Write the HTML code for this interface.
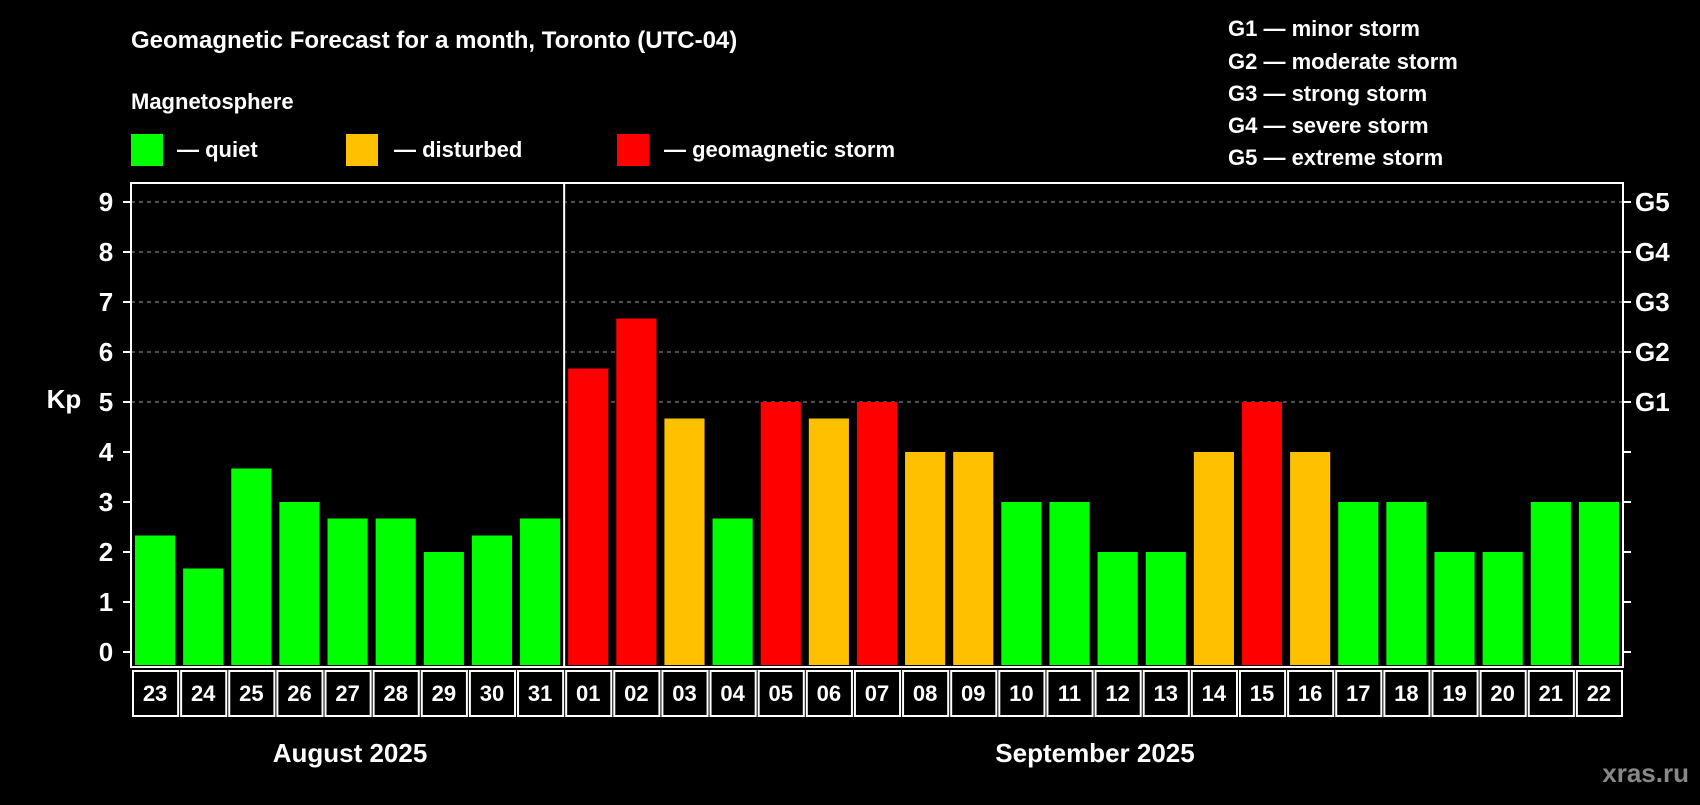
<!DOCTYPE html>
<html><head><meta charset="utf-8"><style>
body{margin:0;background:#000;width:1700px;height:800px;overflow:hidden}
svg text{font-family:"Liberation Sans",sans-serif;font-weight:bold;fill:#fff}
</style></head><body>
<svg id="c" width="1700" height="800">
<text x="131" y="48" font-size="24">Geomagnetic Forecast for a month, Toronto (UTC-04)</text>
<text x="131" y="109" font-size="22">Magnetosphere</text>
<rect x="131" y="134" width="32" height="32" fill="#00ff00"/>
<text x="177" y="157" font-size="22">— quiet</text>
<rect x="346" y="134" width="32" height="32" fill="#ffc000"/>
<text x="394" y="157" font-size="22">— disturbed</text>
<rect x="617" y="134" width="32" height="32" fill="#ff0000"/>
<text x="664" y="157" font-size="22">— geomagnetic storm</text>
<g font-size="22">
<text x="1228" y="36">G1 — minor storm</text>
<text x="1228" y="69">G2 — moderate storm</text>
<text x="1228" y="101">G3 — strong storm</text>
<text x="1228" y="133">G4 — severe storm</text>
<text x="1228" y="165">G5 — extreme storm</text>
</g>
<text x="64" y="408" font-size="26" text-anchor="middle">Kp</text>
<text x="1689" y="782" font-size="26" text-anchor="end" style="fill:#888">xras.ru</text>
<text x="350" y="762" font-size="26" text-anchor="middle">August 2025</text>
<text x="1095" y="762" font-size="26" text-anchor="middle">September 2025</text>
<g id="plot"></g>
</svg>
<script>
const dates=["23","24","25","26","27","28","29","30","31","01","02","03","04","05","06","07","08","09","10","11","12","13","14","15","16","17","18","19","20","21","22"];
const kp=[2.33,1.67,3.67,3,2.67,2.67,2,2.33,2.67,5.67,6.67,4.67,2.67,5,4.67,5,4,4,3,3,2,2,4,5,4,3,3,2,2,3,3];
const yTicks=["0","1","2","3","4","5","6","7","8","9"];
const gLabels=["G1","G2","G3","G4","G5"];
const L=131,R=1623,T=183,B=667,Y0=652,UNIT=50;
const slot=(R-L)/dates.length;
const y=v=>Y0-v*UNIT;
const x=i=>L+i*slot;
const g=document.getElementById('plot');
const NS='http://www.w3.org/2000/svg';
function mk(t,a){const e=document.createElementNS(NS,t);for(const k in a)e.setAttribute(k,a[k]);g.appendChild(e);return e;}
yTicks.forEach((t,i)=>{
 const v=+t;
 if(v>=5){const l=mk('line',{x1:L,x2:R,y1:y(v),y2:y(v),stroke:'#999','stroke-dasharray':'4,4','stroke-width':1});
 
 }
 const tl=mk('line',{x1:L-8,x2:L,y1:y(v),y2:y(v),stroke:'#fff','stroke-width':2});
 
 
 const tr=mk('line',{x1:R,x2:R+8,y1:y(v),y2:y(v),stroke:'#fff','stroke-width':2});
 
 
 const tx=mk('text',{x:106,y:y(v)+9,'font-size':26,'text-anchor':'middle'});tx.textContent=t;
 
 
});
gLabels.forEach((t,i)=>{
 const tx=mk('text',{x:1635,y:y(5+i)+9,'font-size':26});tx.textContent=t;
 
 
});
kp.forEach((v,i)=>{
 const col=v<4?'#00ff00':(v<5?'#ffc000':'#ff0000');
 const r=mk('rect',{x:x(i)+4,y:y(v),width:slot-8,height:B-2-y(v),fill:col});
 
 
 const b=mk('rect',{x:x(i)+2,y:671,width:slot-3,height:45,fill:'none',stroke:'#fff','stroke-width':2});
 
 
 const tx=mk('text',{x:x(i)+slot/2,y:701,'font-size':22,'text-anchor':'middle'});tx.textContent=dates[i];
 
 
});
const fr=mk('rect',{x:L,y:T,width:R-L,height:B-T,fill:'none',stroke:'#fff','stroke-width':2});


const dv=mk('line',{x1:x(9),x2:x(9),y1:T,y2:B,stroke:'#fff','stroke-width':2});


</script>
</body></html>
